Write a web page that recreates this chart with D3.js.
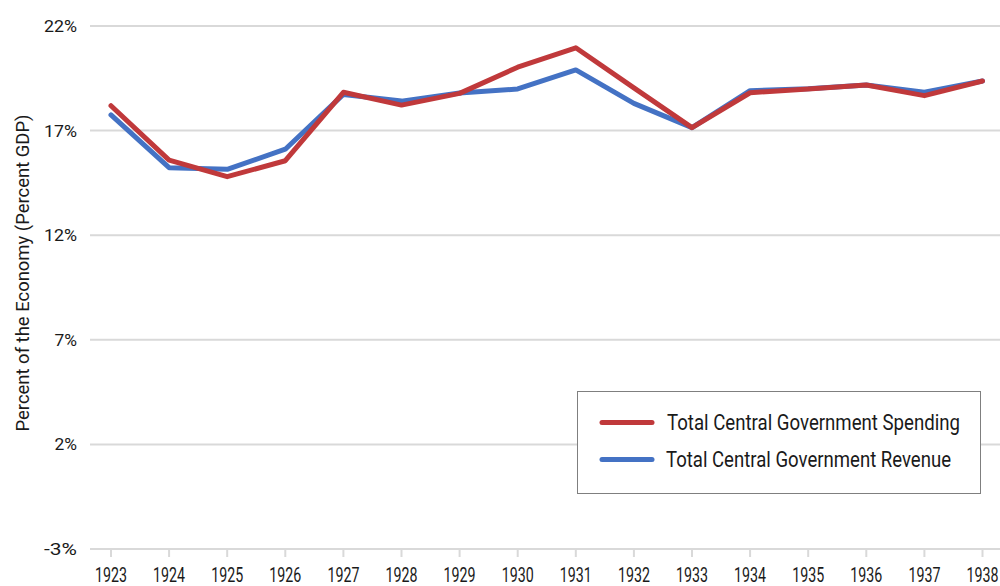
<!DOCTYPE html>
<html>
<head>
<meta charset="utf-8">
<script src="https://cdn.jsdelivr.net/npm/d3@7"></script>
<style>
  body { margin: 0; background: #fff; }
  text { font-family: "Roboto", "Liberation Sans", sans-serif; fill: #1a1a1a; }
</style>
</head>
<body>
<svg id="chart" width="1000" height="586"></svg>
<script>
const years = [1923, 1924, 1925, 1926, 1927, 1928, 1929, 1930, 1931, 1932, 1933, 1934, 1935, 1936, 1937, 1938]
const spending = [18.19, 15.59, 14.8, 15.56, 18.83, 18.22, 18.78, 20.03, 20.96, 19.04, 17.14, 18.81, 18.99, 19.18, 18.67, 19.37]
const revenue = [17.75, 15.23, 15.15, 16.11, 18.73, 18.41, 18.8, 18.99, 19.9, 18.3, 17.14, 18.91, 19.0, 19.18, 18.83, 19.37]
const yTicks = [-3, 2, 7, 12, 17, 22]
const seriesNames = ['Total Central Government Spending', 'Total Central Government Revenue']
const seriesColors = ['#c0393b', '#4472c4']

const svg = d3.select('#chart')

const x = d3.scalePoint().domain(years).range([111, 982.5])
const y = d3.scaleLinear().domain([-3, 22]).range([549, 26])

// gridlines
svg.append('g')
  .selectAll('line')
  .data(yTicks)
  .join('line')
  .attr('x1', 90)
  .attr('x2', 1000)
  .attr('y1', d => y(d))
  .attr('y2', d => y(d))
  .attr('stroke', '#d9d9d9')
  .attr('stroke-width', 2)

// y labels
svg.append('g')
  .selectAll('text')
  .data(yTicks)
  .join('text')
  .attr('x', 77)
  .attr('y', d => y(d))
  .attr('text-anchor', 'end')
  .attr('dominant-baseline', 'central')
  .attr('font-size', 17)
  .attr('textLength', d => String(d).length * 10.5 + 12)
  .attr('lengthAdjust', 'spacingAndGlyphs')
  .text(d => d + '%')

// x ticks + labels
const xAxis = svg.append('g')
xAxis.selectAll('line')
  .data(years)
  .join('line')
  .attr('x1', d => x(d))
  .attr('x2', d => x(d))
  .attr('y1', 549)
  .attr('y2', 557)
  .attr('stroke', '#d9d9d9')
  .attr('stroke-width', 2)
xAxis.selectAll('text')
  .data(years)
  .join('text')
  .attr('x', d => x(d))
  .attr('y', 575.5)
  .attr('text-anchor', 'middle')
  .attr('dominant-baseline', 'central')
  .attr('font-size', 19.5)
  .attr('textLength', 32)
  .attr('lengthAdjust', 'spacingAndGlyphs')
  .text(d => d)

// axis title
svg.append('text')
  .attr('transform', 'translate(22,273) rotate(-90)')
  .attr('text-anchor', 'middle')
  .attr('dominant-baseline', 'central')
  .attr('font-size', 19)
  .attr('textLength', 317)
  .attr('lengthAdjust', 'spacingAndGlyphs')
  .text('Percent of the Economy (Percent GDP)')

// lines
const line = d3.line()
  .x((d, i) => x(years[i]))
  .y(d => y(d))

const drawOrder = [revenue, spending]
const drawColors = [seriesColors[1], seriesColors[0]]
svg.append('g')
  .selectAll('path')
  .data(drawOrder)
  .join('path')
  .attr('d', line)
  .attr('fill', 'none')
  .attr('stroke', (d, i) => drawColors[i])
  .attr('stroke-width', 5)
  .attr('stroke-linejoin', 'round')
  .attr('stroke-linecap', 'round')

// legend
const legend = svg.append('g')
legend.append('rect')
  .attr('x', 577.5)
  .attr('y', 391.5)
  .attr('width', 403)
  .attr('height', 102)
  .attr('fill', '#fff')
  .attr('stroke', '#7f7f7f')
  .attr('stroke-width', 1)

const legendWidths = [293, 285]
const items = legend.selectAll('g.item')
  .data(seriesNames)
  .join('g')
  .attr('class', 'item')
  .attr('transform', (d, i) => `translate(0,${422.5 + i * 37})`)
items.append('line')
  .attr('x1', 602)
  .attr('x2', 652)
  .attr('stroke', (d, i) => seriesColors[i])
  .attr('stroke-width', 5)
  .attr('stroke-linecap', 'round')
items.append('text')
  .attr('x', (d, i) => i === 0 ? 667 : 666)
  .attr('dominant-baseline', 'central')
  .attr('font-size', 22)
  .attr('textLength', (d, i) => legendWidths[i])
  .attr('lengthAdjust', 'spacingAndGlyphs')
  .text(d => d)
</script>
</body>
</html>
